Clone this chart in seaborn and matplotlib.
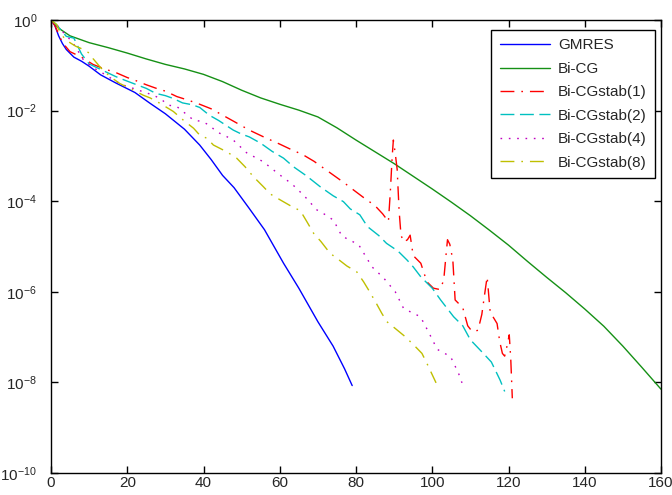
import numpy as np
import pandas as pd
import seaborn as sns
import matplotlib.pyplot as plt
from matplotlib.ticker import FixedLocator, NullLocator


# iterations and log10 of the relative residual
gmres_it = [0, 1, 2, 3, 4, 6, 8, 10, 13, 17, 22, 26, 30, 35, 39, 42, 45, 48, 52, 56, 61, 65, 70, 74, 77, 79]
gmres_log = [0.0, -0.12, -0.35, -0.52, -0.65, -0.82, -0.91, -1.02, -1.21, -1.39, -1.60, -1.84, -2.07, -2.41,
             -2.76, -3.08, -3.43, -3.70, -4.16, -4.63, -5.37, -5.92, -6.66, -7.20, -7.70, -8.07]

bicg_it = [0, 2, 5, 10, 15, 20, 25, 30, 35, 40, 45, 50, 55, 60, 65, 70, 75, 80, 85, 90, 95, 100,
           105, 110, 115, 120, 125, 130, 135, 140, 145, 150, 155, 160]
bicg_log = [0.0, -0.18, -0.35, -0.50, -0.61, -0.73, -0.86, -0.98, -1.08, -1.20, -1.36, -1.55, -1.72,
            -1.86, -1.99, -2.14, -2.38, -2.65, -2.91, -3.17, -3.45, -3.73, -4.02, -4.32, -4.64, -4.97,
            -5.33, -5.68, -6.02, -6.38, -6.76, -7.20, -7.67, -8.15]

stab1_it = [0, 1, 3, 5, 8, 11, 14, 17, 20, 22, 25, 28, 30, 33, 36, 39, 42, 45, 48, 52, 56, 60, 63, 66,
            69, 72, 75, 77, 79, 82, 85, 87, 88.5, 89, 89.5, 89.8, 90.3, 90.8, 91.3, 91.8, 92.5, 93.5,
            94.2, 95, 97, 98.6, 100.3, 102, 103, 103.6, 104, 104.6, 105.4, 106, 108, 109.3, 110.5,
            112, 113, 114, 114.4, 115.2, 117, 117.7, 118.4, 119, 119.6, 120.2, 120.6, 121]
stab1_log = [0.0, -0.12, -0.50, -0.70, -0.82, -0.98, -1.08, -1.16, -1.27, -1.33, -1.43, -1.52, -1.57,
             -1.69, -1.77, -1.86, -1.96, -2.10, -2.24, -2.43, -2.59, -2.74, -2.86, -2.97, -3.12, -3.30,
             -3.48, -3.60, -3.73, -3.92, -4.10, -4.28, -4.45, -3.80, -3.00, -2.65, -2.95, -3.30, -4.20,
             -4.75, -4.90, -4.85, -4.75, -5.20, -5.37, -5.78, -5.92, -5.95, -5.75, -5.20, -4.85, -4.95,
             -5.30, -6.18, -6.35, -6.75, -6.88, -6.85, -6.50, -5.90, -5.67, -6.45, -6.70, -7.10, -7.36,
             -7.42, -7.20, -6.95, -7.50, -8.35]

stab2_it = [0, 1.5, 4, 6, 8, 10, 12, 15, 17, 20, 22.5, 25, 27.5, 30, 32, 34.5, 37, 39, 41.5, 44, 47.8,
            50, 52, 55, 58, 61, 63.6, 67, 70.6, 74, 76.7, 78.5, 81, 83, 86, 88, 91, 93.4, 95, 97, 100,
            102.2, 105.6, 108, 110, 113.4, 115.5, 117, 117.8, 119]
stab2_log = [0.0, -0.11, -0.36, -0.40, -0.75, -0.97, -1.05, -1.17, -1.25, -1.35, -1.43, -1.51, -1.62,
             -1.67, -1.73, -1.83, -1.87, -1.93, -2.10, -2.22, -2.43, -2.52, -2.58, -2.72, -2.90, -3.05,
             -3.24, -3.44, -3.68, -3.88, -4.01, -4.17, -4.30, -4.56, -4.76, -4.93, -5.10, -5.30, -5.45,
             -5.67, -5.92, -6.18, -6.55, -6.75, -7.06, -7.36, -7.55, -7.81, -7.95, -8.20]

stab4_it = [0, 2, 4, 5.4, 6.7, 8.5, 11, 13.7, 16, 18, 20, 22, 24, 26.5, 28.6, 30.8, 33, 35.2, 37.4,
            39.6, 41.5, 43.5, 46, 47.8, 51.3, 55.7, 59.7, 63.2, 66.4, 69.7, 72, 74.1, 76.3, 80.7, 84.2,
            87.2, 90.3, 92.5, 96.9, 99.1, 101.3, 104.8, 106.9, 107.8]
stab4_log = [0.0, -0.15, -0.35, -0.46, -0.63, -0.88, -1.05, -1.18, -1.30, -1.40, -1.47, -1.52, -1.58,
             -1.65, -1.73, -1.88, -1.91, -2.06, -2.21, -2.24, -2.32, -2.47, -2.57, -2.65, -2.93, -3.13,
             -3.40, -3.62, -3.88, -4.19, -4.30, -4.42, -4.77, -4.96, -5.45, -5.69, -6.00, -6.37, -6.55,
             -6.90, -7.27, -7.43, -7.80, -8.01]

stab8_it = [0, 1.5, 2.5, 4, 6.5, 8.5, 10.2, 11, 13, 15.5, 18, 21.6, 24.2, 26, 28.6, 32.1, 34.7, 37.4,
            39.1, 40.9, 42.6, 46.1, 48.7, 50.9, 53.1, 55.7, 57.5, 60.1, 63.2, 65.4, 67.1, 68.9, 70.8,
            73.2, 75, 77.6, 80.2, 82, 83.3, 85.1, 86.8, 88.1, 90.3, 92.9, 95.1, 97.3, 98.6, 99.6, 101]
stab8_log = [0.0, -0.10, -0.30, -0.45, -0.58, -0.65, -0.74, -0.85, -1.05, -1.25, -1.40, -1.55, -1.66,
             -1.72, -1.84, -2.02, -2.21, -2.39, -2.55, -2.61, -2.76, -2.91, -3.05, -3.24, -3.46, -3.68,
             -3.84, -3.97, -4.12, -4.21, -4.45, -4.71, -4.89, -5.15, -5.26, -5.43, -5.56, -5.78, -5.96,
             -6.22, -6.48, -6.66, -6.81, -6.99, -7.17, -7.36, -7.58, -7.76, -8.01]

methods = ["GMRES", "Bi-CG", "Bi-CGstab(1)", "Bi-CGstab(2)", "Bi-CGstab(4)", "Bi-CGstab(8)"]
series_it = [gmres_it, bicg_it, stab1_it, stab2_it, stab4_it, stab8_it]
series_log = [gmres_log, bicg_log, stab1_log, stab2_log, stab4_log, stab8_log]

frames = []
for name, its, lg in zip(methods, series_it, series_log):
    frames.append(pd.DataFrame({"it": its, "res": 10.0 ** np.array(lg), "method": name}))
df = pd.concat(frames, ignore_index=True)

colors = {"GMRES": "#0000ff", "Bi-CG": "#159015", "Bi-CGstab(1)": "#ff0000",
          "Bi-CGstab(2)": "#00c0c0", "Bi-CGstab(4)": "#c000c0", "Bi-CGstab(8)": "#bfbf00"}
dashes = {"GMRES": "", "Bi-CG": "", "Bi-CGstab(1)": (10, 5, 1.2, 5),
          "Bi-CGstab(2)": (10, 4), "Bi-CGstab(4)": (1.2, 4.8), "Bi-CGstab(8)": (10, 5, 1.2, 5)}

sns.set_style("ticks")
plt.rcParams["font.family"] = ["Liberation Sans", "DejaVu Sans"]
plt.rcParams["xtick.direction"] = "in"
plt.rcParams["ytick.direction"] = "in"

fig = plt.figure(figsize=(6.72, 4.95), dpi=100)
ax = fig.add_axes([51 / 672, 22 / 495, 610 / 672, 453 / 495])

sns.lineplot(data=df, x="it", y="res", hue="method", style="method", hue_order=methods,
             style_order=methods, palette=colors, dashes=dashes, estimator=None, sort=False,
             linewidth=1.0, ax=ax)

ax.set_yscale("log")
ax.set_xlim(0, 160)
ax.set_ylim(1e-10, 1)
ax.yaxis.set_major_locator(FixedLocator([1e-10, 1e-8, 1e-6, 1e-4, 1e-2, 1]))
ax.yaxis.set_minor_locator(NullLocator())
ax.set_xticks(range(0, 161, 20))
ax.set_xlabel("")
ax.set_ylabel("")
ax.tick_params(axis="both", which="major", top=True, right=True, length=5, width=1,
               labelsize=11, color="black")
ax.tick_params(axis="x", pad=2)
ax.tick_params(axis="y", pad=10)
for sp in ax.spines.values():
    sp.set_visible(True)
    sp.set_color("black")
    sp.set_linewidth(1.0)

handles, labels = ax.get_legend_handles_labels()
leg = ax.legend(handles, labels, loc="upper right", bbox_to_anchor=((655 - 51) / 610, (473 - 30) / 453),
                borderaxespad=0, fontsize=11, frameon=True, fancybox=False, edgecolor="black",
                framealpha=1, handlelength=3.3, handletextpad=0.5, labelspacing=0.62, borderpad=0.55)
leg.get_frame().set_linewidth(1.0)

fig.savefig("out.png", dpi=100)
